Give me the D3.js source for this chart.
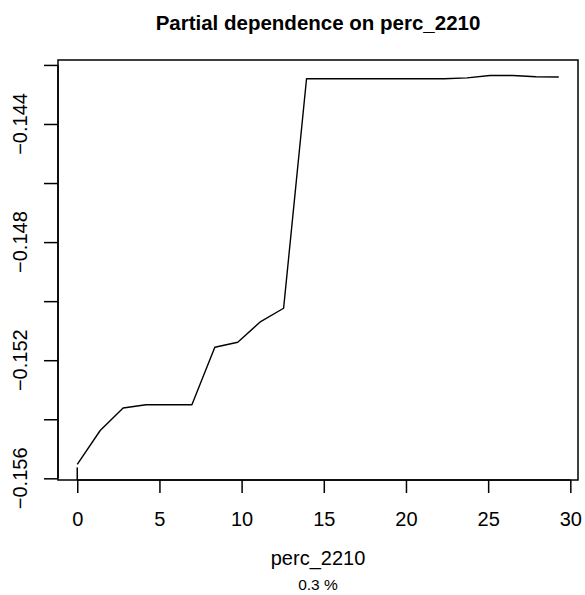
<!DOCTYPE html>
<html>
<head>
<meta charset="utf-8">
<script src="https://cdn.jsdelivr.net/npm/d3@7"></script>
<style>
  body { margin: 0; background: #fff; }
  text { font-family: "Liberation Sans", Arial, sans-serif; fill: #000; }
</style>
</head>
<body>
<div id="chart"></div>
<script>
// partial dependence values
const xVals = [0, 1.395, 2.79, 4.185, 5.58, 6.975, 8.37, 9.765, 11.16, 12.555, 13.95,
  15.345, 16.74, 18.135, 19.53, 20.925, 22.32, 23.715, 25.11, 26.505, 27.9, 29.295];
const yVals = [-0.15553, -0.15438, -0.15362, -0.15351, -0.15351, -0.15351, -0.15156, -0.15139,
  -0.15069, -0.15024, -0.14247, -0.14247, -0.14247, -0.14247, -0.14247, -0.14247, -0.14247,
  -0.14244, -0.14236, -0.14236, -0.14240, -0.14241];
const rugX = [0];

const xTicks = [0, 5, 10, 15, 20, 25, 30];
const yTicks = [-0.156, -0.154, -0.152, -0.150, -0.148, -0.146, -0.144, -0.142];
const yLabels = [-0.156, -0.152, -0.148, -0.144];

const titleText = "Partial dependence on perc_2210";
const xTitle = "perc_2210";
const subTitle = "0.3 %";

const width = 585, height = 595;
const box = { left: 58, top: 60, right: 578, bottom: 480 };

const svg = d3.select("#chart").append("svg")
    .attr("width", width)
    .attr("height", height);

// R style 4% padding on the data range
function padded(vals) {
    const [lo, hi] = d3.extent(vals);
    const d = (hi - lo) * 0.04;
    return [lo - d, hi + d];
}

const x = d3.scaleLinear().domain(padded(xVals)).range([box.left, box.right]);
const y = d3.scaleLinear().domain(padded(yVals)).range([box.bottom, box.top]);

// plot box
svg.append("rect")
    .attr("x", box.left)
    .attr("y", box.top)
    .attr("width", box.right - box.left)
    .attr("height", box.bottom - box.top)
    .attr("fill", "none")
    .attr("stroke", "#000")
    .attr("stroke-width", 1.5);

// x axis
const xAxis = svg.append("g")
    .attr("transform", `translate(0,${box.bottom})`)
    .call(d3.axisBottom(x).tickValues(xTicks).tickSize(13).tickPadding(19).tickFormat(d3.format("d")));
xAxis.select(".domain").attr("d", `M${x(xTicks[0])},0H${x(xTicks[xTicks.length - 1])}`)
    .attr("stroke-width", 1.5);
xAxis.selectAll(".tick line").attr("stroke-width", 1.5);
xAxis.selectAll(".tick text")
    .attr("font-size", 20)
    .attr("font-family", "Liberation Sans, Arial, sans-serif");

// y axis: ticks every 0.002, labels only where R kept them
const yAxis = svg.append("g")
    .attr("transform", `translate(${box.left},0)`)
    .call(d3.axisLeft(y).tickValues(yTicks).tickSize(14).tickFormat(() => ""));
yAxis.select(".domain").attr("d", `M0,${y(yTicks[0])}V${y(yTicks[yTicks.length - 1])}`)
    .attr("stroke-width", 1.5);
yAxis.selectAll(".tick line").attr("stroke-width", 1.5);

svg.append("g").selectAll("text")
    .data(yLabels)
    .join("text")
    .attr("transform", d => `translate(27,${y(d)}) rotate(-90)`)
    .attr("text-anchor", "middle")
    .attr("font-size", 20)
    .text(d => d3.format(".3f")(d).replace("-", "\u2212"));

// rug
svg.append("g").selectAll("line")
    .data(rugX)
    .join("line")
    .attr("x1", d => x(d))
    .attr("x2", d => x(d))
    .attr("y1", box.bottom)
    .attr("y2", box.bottom - (box.bottom - box.top) * 0.03)
    .attr("stroke", "#000")
    .attr("stroke-width", 1.5);

// curve
const line = d3.line()
    .x((d, i) => x(xVals[i]))
    .y(d => y(d));

svg.append("path")
    .datum(yVals)
    .attr("d", line)
    .attr("fill", "none")
    .attr("stroke", "#000")
    .attr("stroke-width", 1.4)
    .attr("stroke-linejoin", "round");

// titles
const cx = (box.left + box.right) / 2;
svg.append("text")
    .attr("x", cx)
    .attr("y", 30)
    .attr("text-anchor", "middle")
    .attr("font-size", 20.5)
    .attr("font-weight", "bold")
    .text(titleText);

svg.append("text")
    .attr("x", cx)
    .attr("y", 565)
    .attr("text-anchor", "middle")
    .attr("font-size", 20)
    .text(xTitle);

svg.append("text")
    .attr("x", cx)
    .attr("y", 590)
    .attr("text-anchor", "middle")
    .attr("font-size", 15.5)
    .text(subTitle);
</script>
</body>
</html>
